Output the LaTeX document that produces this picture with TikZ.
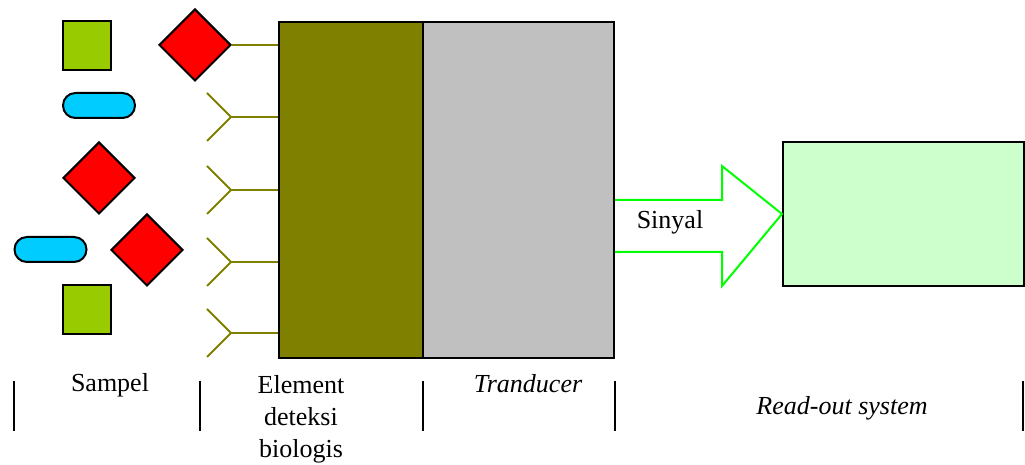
\documentclass[tikz,border=0pt]{standalone}
\usepackage{fontspec}
\setmainfont{Liberation Serif}
\usetikzlibrary{shapes.geometric}
\definecolor{olivebox}{HTML}{808000}
\definecolor{grayjbox}{HTML}{C0C0C0}
\definecolor{limeblock}{HTML}{99CC00}
\definecolor{cyanpill}{HTML}{00CCFF}
\definecolor{sigarrow}{HTML}{00FF00}
\definecolor{readfill}{HTML}{CCFFCC}
\tikzset{
  stagebox/.style={draw=black, line width=1pt, inner sep=0pt},
  sqblock/.style={draw=black, line width=1pt, fill=limeblock, minimum width=24pt, minimum height=24.5pt, inner sep=0pt},
  dia/.style={diamond, draw=black, line width=1pt, fill=red, minimum width=36pt, minimum height=36pt, inner sep=0pt},
  pill/.style={draw=black, line width=1pt, fill=cyanpill, minimum width=36pt, minimum height=12.5pt, rounded corners=6.2pt, inner sep=0pt},
  receptor/.style={draw=olivebox, line width=1pt},
  divider/.style={draw=black, line width=0.9pt},
  lbl/.style={font=\fontsize{13}{16}\selectfont, inner sep=0pt}
}
\begin{document}
\begin{tikzpicture}[x=0.5pt, y=-0.5pt]
\useasboundingbox (0,0) rectangle (1025,465);

% stages
\node[stagebox, fill=olivebox, minimum width=72pt, minimum height=168pt] (elem) at (351,190) {};
\node[stagebox, fill=grayjbox, minimum width=95.5pt, minimum height=168pt] (trans) at (518.5,190) {};
\node[stagebox, fill=readfill, minimum width=120.5pt, minimum height=72pt] (readout) at (903.5,214) {};

% sample particles
\node[sqblock] (sq1) at (87,45.5) {};
\node[sqblock] (sq2) at (87,309.5) {};
\node[dia] (d1) at (195,45) {};
\node[dia] (d2) at (99,178) {};
\node[dia] (d3) at (147,250) {};
\node[pill] (p1) at (99,105.5) {};
\node[pill] (p2) at (50.5,249.5) {};

% bound receptor
\draw[receptor] (d1.east) -- (d1.east -| elem.west);

% free receptors
\foreach \ry [count=\i] in {117,190,262,333} {
  \coordinate (r\i) at (231,\ry);
  \draw[receptor] (207,\ry-24) -- (r\i) -- (207,\ry+24);
  \draw[receptor] (r\i) -- (r\i -| elem.west);
}

% signal arrow
\coordinate (tip) at (readout.west);
\draw[draw=sigarrow, line width=1pt, fill=white]
  (trans.east |- 0,200) -- (722,200) -- (722,166) -- (tip)
  -- (722,286) -- (722,252) -- (trans.east |- 0,252);
\node[lbl, anchor=base] (sig) at (670,229) {Sinyal};

% dividers
\foreach \bx [count=\j] in {14,200,423,615,1023} {
  \coordinate (bt\j) at (\bx,381);
  \coordinate (bb\j) at (\bx,431);
  \draw[divider] (bt\j) -- (bb\j);
}

% stage labels
\node[lbl, anchor=base] (lsam) at (110,392) {Sampel};
\node[lbl, anchor=north, align=center] (lelem) at (301,375) {Element\\deteksi\\biologis};
\node[lbl, anchor=base] (ltrans) at (528,393) {\itshape Tranducer};
\node[lbl, anchor=base] (lread) at (842,415) {\itshape Read-out system};
\end{tikzpicture}
\end{document}
